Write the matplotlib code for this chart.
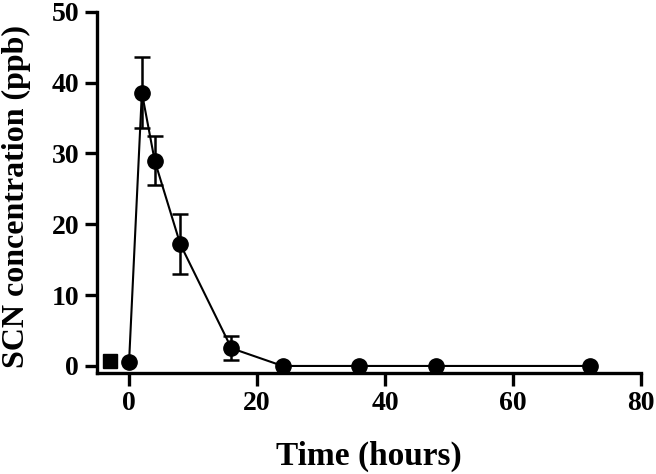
import matplotlib
matplotlib.use("Agg")
import matplotlib.pyplot as plt

plt.rcParams['font.family'] = ['Liberation Serif', 'DejaVu Serif']
plt.rcParams['font.weight'] = 'bold'

# data
time_h = [0, 2, 4, 8, 16, 24, 36, 48, 72]
scn_ppb = [0.6, 38.6, 29.0, 17.2, 2.5, 0.0, 0.0, 0.0, 0.0]
scn_err = [0.0, 5.0, 3.5, 4.2, 1.7, 0.0, 0.0, 0.0, 0.0]
ctrl_time = [-3]
ctrl_ppb = [0.7]

fig = plt.figure(figsize=(6.56, 4.74), dpi=100)
ax = fig.add_axes([0.148, 0.213, 0.829, 0.762])

ax.plot(time_h, scn_ppb, color='black', marker='o', markersize=11,
        linewidth=1.5, zorder=3)
# only points with a spread get error bars
eb_t = [t for t, e in zip(time_h, scn_err) if e > 0]
eb_y = [y for y, e in zip(scn_ppb, scn_err) if e > 0]
eb_e = [e for e in scn_err if e > 0]
ax.errorbar(eb_t, eb_y, yerr=eb_e, fmt='none', ecolor='black',
            elinewidth=1.8, capsize=6, capthick=1.8, zorder=2)
ax.plot(ctrl_time, ctrl_ppb, 's', color='black', markersize=10, zorder=3)

ax.set_xlim(-5, 80)
ax.set_ylim(-1, 50)
ax.set_xticks([0, 20, 40, 60, 80])
ax.set_yticks([0, 10, 20, 30, 40, 50])

for s in ['top', 'right']:
    ax.spines[s].set_visible(False)
for s in ['left', 'bottom']:
    ax.spines[s].set_linewidth(2.4)
ax.tick_params(width=2.4, length=9, labelsize=20, direction='out', pad=4)

ax.set_xlabel('Time (hours)', fontsize=24, fontweight='bold')
ax.set_ylabel('SCN concentration (ppb)', fontsize=23, fontweight='bold')
ax.xaxis.set_label_coords(0.5, -0.188)
ax.yaxis.set_label_coords(-0.121, 0.49)

fig.savefig('out.png', dpi=100)
